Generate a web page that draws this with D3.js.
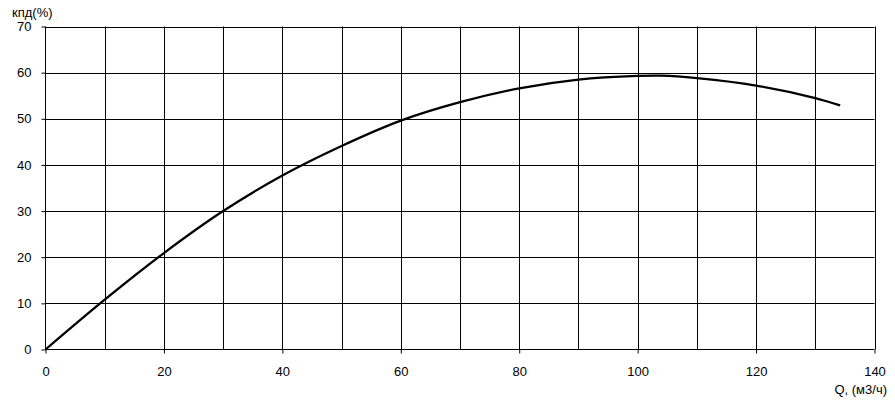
<!DOCTYPE html>
<html><head><meta charset="utf-8">
<script src="https://cdn.jsdelivr.net/npm/d3@7/dist/d3.min.js"></script>
<style>body{margin:0;background:#fff}svg{display:block}text{font-family:"Liberation Sans",Arial,sans-serif;font-size:13px;fill:#000}</style>
</head><body><svg id="c" width="895" height="405"></svg>
<script>
const qValues = [0, 10, 20, 30, 40, 50, 60, 70, 80, 90, 100, 104, 110, 120, 130, 134.2];
const effValues = [0, 10.8, 20.9, 30, 37.7, 44.1, 49.6, 53.6, 56.6, 58.5, 59.3, 59.35, 58.8, 57.2, 54.5, 52.9];
const xTickLabels = [0, 20, 40, 60, 80, 100, 120, 140];
const yTickLabels = [0, 10, 20, 30, 40, 50, 60, 70];
const xGrid = [10,20,30,40,50,60,70,80,90,100,110,120,130,140];
const yGrid = [10,20,30,40,50,60,70];
const yTitle = "кпд(%)";
const xTitle = "Q, (м3/ч)";

const svg = d3.select("#c");
const x = d3.scaleLinear().domain([0,140]).range([45.5,874.5]);
const y = d3.scaleLinear().domain([0,70]).range([349.5,26.5]);

const g = svg.append("g");
g.selectAll("line.vg").data(xGrid).join("line")
  .attr("x1", d=>Math.round(x(d))+0.5).attr("x2", d=>Math.round(x(d))+0.5)
  .attr("y1", y(70)).attr("y2", y(0)).attr("stroke","#000").attr("stroke-width",1);
g.selectAll("line.hg").data(yGrid).join("line")
  .attr("y1", d=>Math.round(y(d))+0.5).attr("y2", d=>Math.round(y(d))+0.5)
  .attr("x1", x(0)).attr("x2", x(140)).attr("stroke","#000").attr("stroke-width",1);

const xAxis = d3.axisBottom(x).tickValues(xTickLabels).tickSize(4).tickPadding(13).tickFormat(d3.format("d"));
const gx = svg.append("g").attr("transform", `translate(0,${y(0)})`).call(xAxis);
const yAxis = d3.axisLeft(y).tickValues(yTickLabels).tickSize(4).tickPadding(10).tickFormat(d3.format("d"));
const gy = svg.append("g").attr("transform", `translate(${x(0)},0)`).call(yAxis);
[gx, gy].forEach(a => {
  a.select(".domain").remove();
  a.selectAll(".tick line").attr("stroke","#000");
  a.selectAll("text").attr("font-size", 13).attr("font-family","Liberation Sans, Arial, sans-serif").attr("fill","#000");
});
svg.append("line").attr("x1", x(0)).attr("x2", x(140)).attr("y1", y(0)).attr("y2", y(0)).attr("stroke","#000");
svg.append("line").attr("x1", x(0)).attr("x2", x(0)).attr("y1", y(70)).attr("y2", y(0)).attr("stroke","#000");

const data = qValues.map((q,i)=>[q, effValues[i]]);
svg.append("path").datum(data)
  .attr("fill","none").attr("stroke","#000").attr("stroke-width",2.3)
  .attr("d", d3.line().x(d=>x(d[0])).y(d=>y(d[1])).curve(d3.curveCatmullRom.alpha(0.5)));

svg.append("text").attr("x", 12).attr("y", 17).text(yTitle);
svg.append("text").attr("x", 887).attr("y", 394).attr("text-anchor","end").text(xTitle);
</script></body></html>
